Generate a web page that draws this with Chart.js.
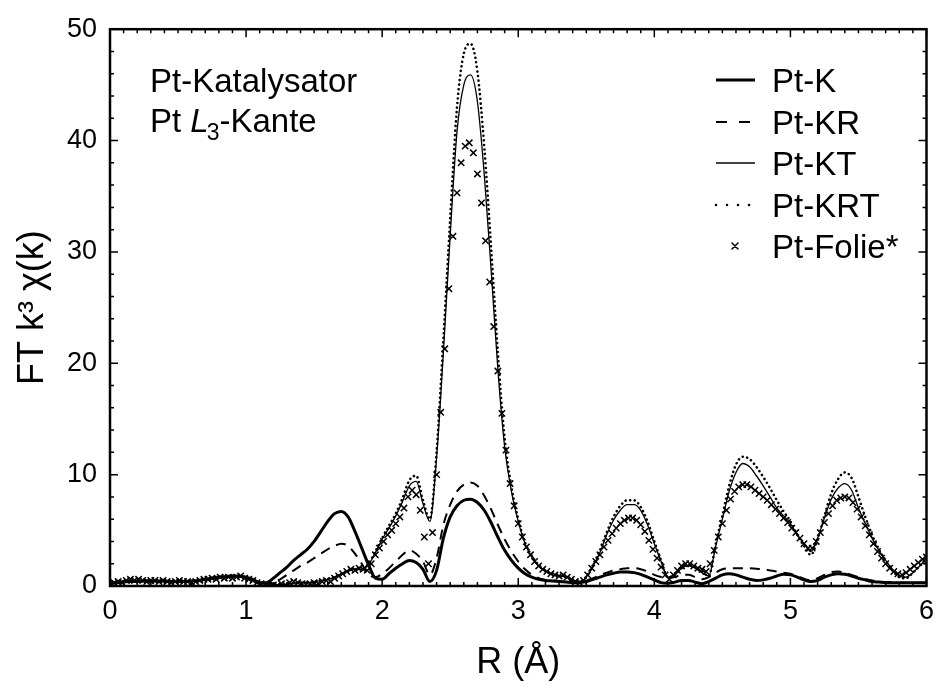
<!DOCTYPE html>
<html>
<head>
<meta charset="utf-8">
<script src="https://cdn.jsdelivr.net/npm/chart.js@4.4.0/dist/chart.umd.min.js"></script>
<style>
  body { margin: 0; background: #fff; }
  #wrap { width: 943px; height: 690px; }
</style>
</head>
<body>
<div id="wrap"><canvas id="ftChart" width="943" height="690"></canvas></div>
<script>
// sampling of the fitted curves (R in Angstrom) and of the foil reference
const lineStep = 0.05;
const folieStep = 0.03;

// Pt-K, Pt-KR, Pt-KT, Pt-KRT: one value every 0.05 A, rows of 0.5 A
const ptK = [
  0.2, 0.3, 0.35, 0.4, 0.4, 0.45, 0.45, 0.45, 0.45, 0.4,
  0.4, 0.4, 0.45, 0.5, 0.6, 0.7, 0.8, 0.85, 0.9, 0.9,
  0.8, 0.6, 0.3, 0.3, 0.7, 1.2, 1.7, 2.3, 2.8, 3.3,
  4.0, 4.9, 5.8, 6.5, 6.7, 6.2, 4.9, 3.4, 1.9, 0.7,
  0.6, 1.1, 1.6, 2.0, 2.3, 2.1, 1.5, 0.4, 1.4, 4.3,
  6.2, 7.2, 7.7, 7.8, 7.5, 6.8, 5.7, 4.4, 3.2, 2.3,
  1.6, 1.1, 0.8, 0.6, 0.5, 0.45, 0.4, 0.35, 0.3, 0.3,
  0.4, 0.6, 0.8, 1.0, 1.15, 1.25, 1.25, 1.2, 1.05, 0.8,
  0.55, 0.3, 0.25, 0.35, 0.5, 0.5, 0.35, 0.2, 0.4, 0.7,
  1.0, 1.1, 1.0, 0.8, 0.6, 0.5, 0.55, 0.7, 0.9, 1.05,
  1.0, 0.8, 0.55, 0.4, 0.5, 0.8, 1.0, 1.1, 1.05, 0.9,
  0.7, 0.55, 0.4, 0.35, 0.3, 0.3, 0.3, 0.3, 0.3, 0.3,
  0.3
];
const ptKR = [
  0.2, 0.3, 0.35, 0.4, 0.4, 0.45, 0.45, 0.45, 0.45, 0.4,
  0.4, 0.4, 0.45, 0.5, 0.6, 0.7, 0.75, 0.8, 0.85, 0.85,
  0.75, 0.55, 0.3, 0.2, 0.4, 0.6, 1.0, 1.4, 1.8, 2.1,
  2.5, 2.9, 3.3, 3.6, 3.8, 3.6, 2.9, 2.0, 1.0, 0.8,
  1.1, 1.6, 2.2, 2.8, 3.2, 2.9, 2.2, 1.0, 2.5, 5.5,
  7.3, 8.5, 9.1, 9.3, 9.0, 8.1, 6.9, 5.5, 4.2, 3.1,
  2.2, 1.5, 1.0, 0.7, 0.55, 0.5, 0.45, 0.4, 0.4, 0.4,
  0.5, 0.7, 1.0, 1.2, 1.4, 1.5, 1.6, 1.6, 1.5, 1.3,
  1.0, 0.8, 0.7, 0.8, 1.0, 1.0, 0.8, 0.6, 0.8, 1.2,
  1.5, 1.6, 1.6, 1.6, 1.6, 1.55, 1.5, 1.4, 1.3, 1.2,
  1.1, 0.9, 0.65, 0.5, 0.7, 1.0, 1.25, 1.3, 1.2, 1.0,
  0.8, 0.6, 0.5, 0.4, 0.35, 0.35, 0.3, 0.3, 0.3, 0.3,
  0.3
];
const ptKT = [
  0.2, 0.35, 0.45, 0.5, 0.5, 0.5, 0.45, 0.45, 0.4, 0.4,
  0.4, 0.4, 0.45, 0.5, 0.55, 0.65, 0.75, 0.8, 0.85, 0.8,
  0.7, 0.5, 0.3, 0.2, 0.15, 0.1, 0.15, 0.25, 0.3, 0.3,
  0.35, 0.5, 0.6, 0.8, 1.1, 1.4, 1.5, 1.5, 1.9, 3.0,
  4.2, 5.2, 6.3, 7.6, 9.0, 9.4, 7.4, 5.8, 11.5, 21.0,
  31.5, 40.8, 45.0, 45.9, 43.5, 37.0, 28.5, 19.5, 12.5, 8.5,
  5.8, 3.8, 2.6, 1.8, 1.3, 1.0, 0.9, 0.8, 0.5, 0.35,
  0.8, 1.8, 3.0, 4.6, 5.9, 6.8, 7.3, 7.3, 6.8, 5.5,
  3.8, 2.2, 0.8, 1.0, 1.6, 1.8, 1.6, 1.2, 0.9, 3.5,
  6.0, 8.5, 10.2, 11.0, 10.7, 9.9, 9.0, 8.0, 7.0, 6.3,
  5.6, 4.6, 3.8, 3.1, 4.3, 6.1, 7.8, 8.8, 9.2, 8.6,
  7.0, 5.6, 4.3, 3.2, 2.3, 1.5, 0.9, 0.8, 1.2, 1.8,
  2.5
];
const ptKRT = [
  0.2, 0.35, 0.45, 0.5, 0.5, 0.5, 0.45, 0.45, 0.4, 0.4,
  0.4, 0.4, 0.45, 0.5, 0.55, 0.65, 0.75, 0.8, 0.85, 0.8,
  0.7, 0.5, 0.3, 0.2, 0.15, 0.1, 0.15, 0.25, 0.3, 0.3,
  0.35, 0.5, 0.6, 0.8, 1.1, 1.4, 1.5, 1.5, 2.0, 3.1,
  4.3, 5.4, 6.5, 7.9, 9.5, 9.9, 7.7, 6.0, 12.1, 22.2,
  33.0, 43.0, 47.8, 48.7, 46.2, 39.5, 30.5, 21.0, 13.3, 8.9,
  6.0, 3.9, 2.7, 1.9, 1.4, 1.1, 0.9, 0.8, 0.5, 0.35,
  0.8, 1.9, 3.2, 4.8, 6.2, 7.2, 7.7, 7.7, 7.1, 5.8,
  4.0, 2.3, 0.8, 1.0, 1.6, 1.9, 1.7, 1.3, 0.9, 3.7,
  6.3, 9.0, 10.9, 11.6, 11.4, 10.7, 9.8, 8.8, 7.7, 6.7,
  5.8, 4.6, 3.6, 2.8, 4.2, 6.3, 8.3, 9.6, 10.2, 9.7,
  8.0, 6.2, 4.6, 3.3, 2.3, 1.4, 0.8, 0.7, 1.2, 1.8,
  2.5
];

// Pt-Folie*: one value every 0.03 A, rows of 0.3 A
const ptFolie = [
  0.2, 0.3, 0.4, 0.3, 0.5, 0.6, 0.5, 0.6, 0.5, 0.4,
  0.5, 0.5, 0.4, 0.5, 0.4, 0.3, 0.4, 0.5, 0.4, 0.4,
  0.3, 0.4, 0.5, 0.6, 0.6, 0.7, 0.6, 0.8, 0.7, 0.8,
  0.7, 0.8, 0.9, 0.7, 0.6, 0.5, 0.3, 0.2, 0.1, 0.05,
  0.1, 0.05, 0.2, 0.1, 0.3, 0.4, 0.3, 0.2, 0.1, 0.2,
  0.3, 0.2, 0.4, 0.5, 0.4, 0.7, 0.9, 1.1, 1.3, 1.5,
  1.4, 1.6, 1.5, 1.4, 2.0, 2.8, 3.4, 4.0, 4.6, 5.0,
  5.6, 6.2, 7.0, 8.0, 8.6, 8.2, 6.8, 4.4, 2.0, 4.8,
  10.0, 15.6, 21.3, 26.7, 31.4, 35.3, 38.0, 39.5, 39.8, 38.9,
  37.0, 34.4, 31.0, 27.3, 23.3, 19.3, 15.5, 12.2, 9.2, 7.2,
  5.6, 4.4, 3.5, 2.8, 2.2, 1.8, 1.5, 1.3, 1.1, 1.0,
  0.9, 1.0, 0.8, 0.6, 0.4, 0.3, 0.5, 1.0, 1.6, 2.2,
  2.8, 3.5, 4.1, 4.7, 5.2, 5.6, 5.9, 6.1, 6.1, 5.9,
  5.5, 4.9, 4.1, 3.3, 2.5, 1.7, 1.0, 0.6, 1.0, 1.4,
  1.8, 2.0, 2.0, 1.8, 1.6, 1.5, 1.3, 2.0, 3.2, 4.4,
  5.6, 6.8, 7.8, 8.5, 8.9, 9.1, 9.1, 8.9, 8.6, 8.3,
  8.0, 7.7, 7.3, 6.9, 6.5, 6.1, 5.7, 5.2, 4.8, 4.3,
  3.8, 3.4, 3.4, 4.0, 4.8, 5.7, 6.5, 7.2, 7.7, 7.9,
  8.0, 7.9, 7.5, 6.9, 6.2, 5.4, 4.6, 3.8, 3.1, 2.5,
  2.0, 1.6, 1.3, 1.1, 1.0, 1.2, 1.5, 1.8, 2.1, 2.4,
  2.6
];

const seriesNames = ['Pt-K', 'Pt-KR', 'Pt-KT', 'Pt-KRT', 'Pt-Folie*'];
const xTicks = [0, 1, 2, 3, 4, 5, 6];
const yTicks = [0, 10, 20, 30, 40, 50];
const noteLines = ['Pt-Katalysator', 'Pt ', 'L', '3', '-Kante'];

const FONT = "'Liberation Sans', Arial, sans-serif";

function toPoints(values, step) {
  return values.map((v, i) => ({ x: Math.round(i * step * 100) / 100, y: v }));
}

function lineSet(label, values, width, dash, cap) {
  return {
    label: label,
    data: toPoints(values, lineStep),
    borderColor: '#000',
    borderWidth: width,
    borderDash: dash,
    borderCapStyle: cap || 'butt',
    pointRadius: 0,
    pointStyle: 'line',
    cubicInterpolationMode: 'monotone',
    fill: false
  };
}

const datasets = [
  lineSet(seriesNames[0], ptK, 3, []),
  lineSet(seriesNames[1], ptKR, 2, [10, 7]),
  lineSet(seriesNames[2], ptKT, 1.3, []),
  lineSet(seriesNames[3], ptKRT, 2.6, [0.01, 4.6], 'round'),
  {
    label: seriesNames[4],
    data: toPoints(ptFolie, folieStep),
    showLine: false,
    pointStyle: 'crossRot',
    pointRadius: 4.5,
    pointBorderWidth: 1.5,
    borderColor: '#000',
    backgroundColor: '#000'
  }
];

// frame with inward ticks on all four sides
const frameTicks = {
  id: 'frameTicks',
  afterDatasetsDraw(chart) {
    const { ctx, chartArea: a, scales: { x, y } } = chart;
    ctx.save();
    ctx.strokeStyle = '#000';
    ctx.lineWidth = 1.5;
    ctx.beginPath();
    for (let i = 0; i <= 60; i++) {
      const px = x.getPixelForValue(i / 10);
      const len = i % 10 === 0 ? 8 : 4;
      ctx.moveTo(px, a.bottom); ctx.lineTo(px, a.bottom - len);
      ctx.moveTo(px, a.top); ctx.lineTo(px, a.top + len);
    }
    for (let v = 0; v <= 50; v += 2) {
      const py = y.getPixelForValue(v);
      const len = v % 10 === 0 ? 8 : 4;
      ctx.moveTo(a.left, py); ctx.lineTo(a.left + len, py);
      ctx.moveTo(a.right, py); ctx.lineTo(a.right - len, py);
    }
    ctx.stroke();
    ctx.lineWidth = 2.5;
    ctx.strokeRect(a.left, a.top, a.right - a.left, a.bottom - a.top);
    ctx.restore();
  }
};

// legend at the top right and sample description at the top left
const legendNote = {
  id: 'legendNote',
  afterDraw(chart) {
    const ctx = chart.ctx;
    ctx.save();
    ctx.fillStyle = '#000';
    ctx.strokeStyle = '#000';
    ctx.textBaseline = 'alphabetic';
    ctx.textAlign = 'left';

    // top-left text
    ctx.font = '33px ' + FONT;
    ctx.fillText(noteLines[0], 150, 92);
    let tx = 150;
    ctx.fillText(noteLines[1], tx, 132);
    tx += ctx.measureText(noteLines[1]).width;
    ctx.font = 'italic 33px ' + FONT;
    ctx.fillText(noteLines[2], tx, 132);
    tx += ctx.measureText(noteLines[2]).width - 2;
    ctx.font = '23px ' + FONT;
    ctx.fillText(noteLines[3], tx, 140);
    tx += ctx.measureText(noteLines[3]).width;
    ctx.font = '33px ' + FONT;
    ctx.fillText(noteLines[4], tx, 132);

    // legend
    const rowY = [80, 122, 163, 205, 246];
    const legendDash = [[], [11, 12], [], [0.01, 11]];
    chart.data.datasets.forEach((ds, i) => {
      const cy = rowY[i];
      if (ds.showLine === false) {
        const s = 3;
        ctx.lineWidth = 1.5;
        ctx.setLineDash([]);
        ctx.beginPath();
        ctx.moveTo(735 - s, cy - s); ctx.lineTo(735 + s, cy + s);
        ctx.moveTo(735 - s, cy + s); ctx.lineTo(735 + s, cy - s);
        ctx.stroke();
      } else {
        ctx.lineWidth = ds.borderWidth;
        ctx.lineCap = ds.borderCapStyle;
        ctx.setLineDash(legendDash[i]);
        ctx.beginPath();
        ctx.moveTo(716, cy);
        ctx.lineTo(755, cy);
        ctx.stroke();
      }
      ctx.setLineDash([]);
      ctx.font = '33px ' + FONT;
      ctx.fillText(ds.label, 772, cy + 12);
    });
    ctx.restore();
  }
};

const ctx = document.getElementById('ftChart').getContext('2d');
new Chart(ctx, {
  type: 'line',
  data: { datasets: datasets },
  plugins: [frameTicks, legendNote],
  options: {
    responsive: false,
    animation: false,
    layout: { padding: { top: 23, right: 11, left: 0, bottom: 0 } },
    plugins: {
      legend: { display: false },
      tooltip: { enabled: false }
    },
    scales: {
      x: {
        type: 'linear',
        min: 0,
        max: 6,
        afterFit: s => { s.height = 104; },
        afterBuildTicks: s => { s.ticks = xTicks.map(v => ({ value: v })); },
        grid: { display: false, drawTicks: false },
        border: { display: false },
        ticks: { color: '#000', padding: 9, font: { size: 27, family: FONT } },
        title: {
          display: true,
          text: 'R (Å)',
          color: '#000',
          font: { size: 36, family: FONT },
          padding: { top: 0, bottom: 5 }
        }
      },
      y: {
        type: 'linear',
        min: 0,
        max: 50,
        afterFit: s => { s.width = 110; },
        afterBuildTicks: s => { s.ticks = yTicks.map(v => ({ value: v })); },
        grid: { display: false, drawTicks: false },
        border: { display: false },
        ticks: { color: '#000', padding: 13, font: { size: 27, family: FONT } },
        title: {
          display: true,
          text: 'FT k³ χ(k)',
          color: '#000',
          font: { size: 36, family: FONT },
          padding: { top: 11, bottom: 0 }
        }
      }
    }
  }
});
</script>
</body>
</html>
